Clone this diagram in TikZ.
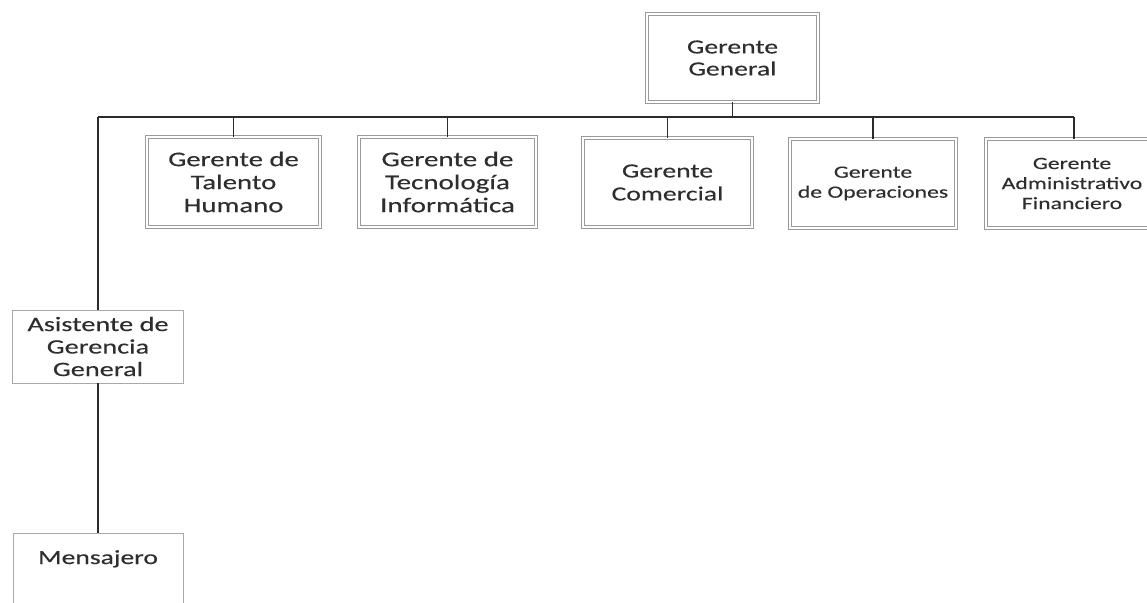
\documentclass[tikz,border=0pt]{standalone}
\usepackage{fontspec}
\setmainfont{Carlito}[FakeStretch=1.38,FakeBold=0.3]
\definecolor{txt}{HTML}{2E2E2E}
\definecolor{ln}{HTML}{2B2B2B}
\definecolor{bx}{HTML}{9A9A9A}
\begin{document}
\begin{tikzpicture}[x=1pt,y=-1pt,
  dbox/.style={draw=bx,double=white,double distance=2pt,line width=0.8pt,
    align=center,text=txt,inner sep=0pt},
  sbox/.style={draw=bx!85,line width=0.9pt,align=center,text=txt,inner sep=0pt},
  conn/.style={draw=ln,line width=1.3pt}]
\useasboundingbox (0,0) rectangle (1147,602);
\clip (0,0) rectangle (1147,602);
\fill[white] (0,0) rectangle (1147,602);
% top
\node[dbox,minimum width=171pt,minimum height=88pt,font=\fontsize{20}{22}\selectfont] (gg) at (732.5,58) {Gerente\\General};
% second level
\node[dbox,minimum width=173pt,minimum height=90pt,font=\fontsize{20.8}{23}\selectfont] (th) at (233.5,182) {Gerente de\\Talento\\Humano};
\node[dbox,minimum width=177pt,minimum height=90pt,font=\fontsize{21}{23}\selectfont] (ti) at (447.5,182) {Gerente de\\Tecnología\\Informática};
\node[dbox,minimum width=169pt,minimum height=89pt,font=\fontsize{20}{23}\selectfont] (gc) at (667.5,182.5) {Gerente\\Comercial};
\node[dbox,minimum width=166pt,minimum height=89pt,font=\fontsize{17.2}{20}\selectfont] (go) at (873,183.5) {Gerente\\de Operaciones};
\node[dbox,minimum width=172pt,minimum height=89pt,font=\fontsize{17.2}{20}\selectfont] (ga) at (1072,183.5) {Gerente\\Administrativo\\Financiero};
% left branch
\node[sbox,minimum width=171pt,minimum height=73pt,font=\fontsize{20.5}{22.5}\selectfont] (as) at (98,346.5) {Asistente de\\Gerencia\\General};
\node[sbox,minimum width=170pt,minimum height=88pt,font=\fontsize{20}{22.5}\selectfont,text height=14pt,text depth=40pt] (me) at (98,577) {Mensajero};
% bus
\coordinate (busL) at (98,117);
\coordinate (busR) at (1074,117);
\draw[conn] (busL) -- (busR);
\draw[conn] (gg.south) -- (gg.south |- busL);
\draw[conn] (th.north |- busL) -- (th.north);
\draw[conn] (ti.north |- busL) -- (ti.north);
\draw[conn] (gc.north |- busL) -- (gc.north);
\draw[conn] (go.north |- busL) -- (go.north);
\draw[conn] (busR) -- (busR |- ga.north);
\draw[conn] (busL) -- (as.north);
\draw[conn] (as.south) -- (me.north);
\end{tikzpicture}
\end{document}
